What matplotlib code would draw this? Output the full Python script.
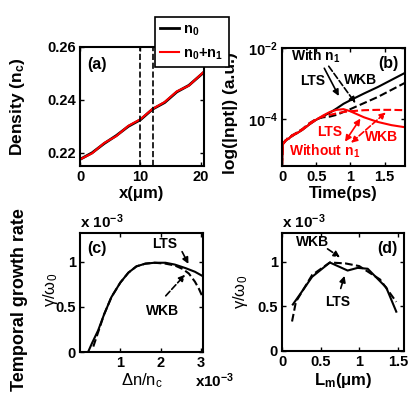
import numpy as np
import matplotlib
matplotlib.use("Agg")
import matplotlib.pyplot as plt

plt.rcParams['font.family'] = ['Liberation Sans', 'DejaVu Sans']
plt.rcParams['font.weight'] = 'bold'
plt.rcParams['axes.labelweight'] = 'bold'
plt.rcParams['font.size'] = 11
plt.rcParams['mathtext.default'] = 'regular'

# (a) density profile
x_a = [0, 2, 4, 6, 8, 10, 12, 14, 16, 18, 20.5]
n0 = [0.2175, 0.2200, 0.2235, 0.2265, 0.2300, 0.2325, 0.2365, 0.2390, 0.2430, 0.2455, 0.2505]
n0n1 = [0.2175, 0.2198, 0.2237, 0.2263, 0.2302, 0.2327, 0.2366, 0.2392, 0.2432, 0.2454, 0.2507]

# (b) log10(|npt|) vs time
t_b = [0, 0.01, 0.05, 0.1, 0.15, 0.2, 0.3, 0.4, 0.5, 0.6, 0.7, 0.8, 0.9, 1.0, 1.2, 1.4, 1.6, 1.8]
with_lts = [-5.32, -4.70, -4.60, -4.55, -4.45, -4.42, -4.30, -4.15, -4.02, -3.92, -3.82, -3.70, -3.57, -3.47, -3.28, -3.10, -2.90, -2.70]
with_wkb = [-5.32, -4.70, -4.62, -4.50, -4.48, -4.40, -4.28, -4.12, -4.00, -3.95, -3.93, -3.88, -3.80, -3.72, -3.55, -3.38, -3.18, -2.98]
wo_lts = [-5.32, -4.70, -4.60, -4.55, -4.45, -4.42, -4.30, -4.15, -4.02, -3.90, -3.80, -3.74, -3.72, -3.78, -3.95, -4.08, -4.17, -4.23]
wo_wkb = [-5.32, -4.72, -4.62, -4.50, -4.48, -4.40, -4.28, -4.12, -4.00, -3.93, -3.88, -3.84, -3.80, -3.78, -3.75, -3.74, -3.74, -3.75]

# (c) growth rate vs dn/nc (both x1e-3)
dn_c = [0.2, 0.3, 0.45, 0.6, 0.78, 1.0, 1.2, 1.4, 1.62, 1.85, 2.12, 2.35, 2.62, 2.85, 3.05]
lts_c = [0.0, 0.10, 0.24, 0.42, 0.61, 0.77, 0.88, 0.95, 0.98, 0.99, 0.99, 0.97, 0.93, 0.89, 0.84]
dn_c2 = [0.33, 0.45, 0.6, 0.78, 1.0, 1.2, 1.4, 1.62, 1.85, 2.12, 2.35, 2.55, 2.7, 2.85, 2.95, 3.05]
wkb_c = [0.06, 0.22, 0.42, 0.61, 0.77, 0.88, 0.95, 0.98, 0.99, 0.98, 0.96, 0.92, 0.87, 0.78, 0.70, 0.60]

# (d) growth rate vs Lm (x1e-3)
lm_lts = [0.14, 0.23, 0.39, 0.62, 0.85, 0.98, 1.11, 1.35, 1.48]
lts_d = [0.52, 0.63, 0.83, 0.99, 0.90, 0.93, 0.92, 0.71, 0.44]
lm_wkb = [0.13, 0.18, 0.39, 0.62, 0.82, 1.00, 1.27, 1.48]
wkb_d = [0.33, 0.55, 0.85, 0.99, 0.98, 0.95, 0.80, 0.55]

W, H = 415, 396
fig = plt.figure(figsize=(W / 100, H / 100), dpi=100)

XL = 12   # x label size
YL = 12.5   # y label size


def box(l, t, r, b):
    return [l / W, 1 - b / H, (r - l) / W, (b - t) / H]


def style(ax):
    ax.tick_params(direction='in', top=True, right=True, length=3, width=1,
                   labelsize=10.5, pad=3)
    for s in ax.spines.values():
        s.set_linewidth(1.5)


axa = fig.add_axes(box(80, 47, 204, 166))
axb = fig.add_axes(box(282, 48, 405, 166))
axc = fig.add_axes(box(80, 233, 203, 352))
axd = fig.add_axes(box(282, 233, 404, 351))

# (a)
l1, = axa.plot(x_a, n0, color='black', lw=2)
l2, = axa.plot(x_a, n0n1, color='red', lw=1.5)
axa.axvline(10, color='black', ls='--', lw=1.2)
axa.axvline(12, color='black', ls='--', lw=1.2)
axa.set_xlim(0, 20.5)
axa.set_ylim(0.215, 0.26)
axa.set_xticks([0, 10, 20])
axa.set_yticks([0.22, 0.24, 0.26])
axa.set_ylabel('Density (n$_c$)', fontsize=YL)
axa.yaxis.set_label_coords(-0.43, 0.5)
axa.set_xlabel('x(μm)', fontsize=XL, labelpad=1)
axa.text(0.06, 0.92, '(a)', transform=axa.transAxes, va='top', fontsize=11.5)
style(axa)
leg = fig.legend([l1, l2], ['n$_0$', 'n$_0$+n$_1$'], loc='upper left',
                 bbox_to_anchor=(155 / W, 1 - 17 / H), borderaxespad=0,
                 frameon=True, fancybox=False, edgecolor='black',
                 handlelength=1.3, borderpad=0.35, handletextpad=0.3,
                 labelspacing=0.6, fontsize=10.5)
leg.get_frame().set_linewidth(1.2)
leg.get_frame().set_alpha(1)

# (b)
tb = np.array(t_b)
axb.semilogy(tb, 10 ** np.array(with_lts), color='black', lw=1.5)
axb.semilogy(tb, 10 ** np.array(with_wkb), color='black', lw=1.5, ls='--')
axb.semilogy(tb, 10 ** np.array(wo_lts), color='red', lw=1.5)
axb.semilogy(tb, 10 ** np.array(wo_wkb), color='red', lw=1.5, ls='--')
axb.set_xlim(0, 1.8)
axb.set_ylim(10 ** -5.32, 1e-2)
axb.set_xticks([0, 0.5, 1, 1.5])
axb.set_xticklabels(['0', '0.5', '1', '1.5'])
axb.set_yticks([1e-4, 1e-2])
axb.minorticks_off()
axb.set_ylabel('log(|npt|) (a.u.)', fontsize=YL)
axb.yaxis.set_label_coords(-0.36, 0.45)
axb.set_xlabel('Time(ps)', fontsize=XL, labelpad=1)
axb.text(0.95, 0.93, '(b)', transform=axb.transAxes, ha='right', va='top', fontsize=11.5)
axb.text(0.5, 10 ** -2.23, 'With n$_1$', ha='center', va='center', fontsize=10)
axb.text(0.45, 10 ** -2.93, 'LTS', ha='center', va='center', fontsize=10)
axb.text(1.15, 10 ** -2.9, 'WKB', ha='center', va='center', fontsize=10)
axb.annotate('', xy=(0.85, 10 ** -3.42), xytext=(0.6, 10 ** -2.5),
             arrowprops=dict(arrowstyle='-|>', color='black', lw=1.2, mutation_scale=9))
axb.annotate('', xy=(1.1, 10 ** -3.62), xytext=(0.66, 10 ** -2.45),
             arrowprops=dict(arrowstyle='-|>', color='black', lw=1.2, ls='--', mutation_scale=9))
axb.text(0.7, 10 ** -4.35, 'LTS', color='red', ha='center', va='center', fontsize=10)
axb.text(1.45, 10 ** -4.5, 'WKB', color='red', ha='center', va='center', fontsize=10)
axb.text(0.62, 10 ** -4.92, 'Without n$_1$', color='red', ha='center', va='center', fontsize=10)
axb.annotate('', xy=(1.17, 10 ** -3.92), xytext=(0.9, 10 ** -4.7),
             arrowprops=dict(arrowstyle='<|-|>', color='red', lw=1.2, mutation_scale=9))
axb.annotate('', xy=(1.55, 10 ** -3.76), xytext=(0.98, 10 ** -4.72),
             arrowprops=dict(arrowstyle='<|-|>', color='red', lw=1.2, ls='--', mutation_scale=9))
style(axb)

# (c)
axc.plot(dn_c, lts_c, color='black', lw=1.5)
axc.plot(dn_c2, wkb_c, color='black', lw=1.5, ls='--')
axc.set_xlim(0, 3.05)
axc.set_ylim(0, 1.32)
axc.set_xticks([1, 2, 3])
axc.set_yticks([0, 0.5, 1])
axc.set_yticklabels(['0', '0.5', '1'])
axc.set_xlabel('Δn/n$_c$', fontweight='normal', fontsize=XL, labelpad=1)
axc.text(0.06, 0.93, '(c)', transform=axc.transAxes, va='top', fontsize=11.5)
axc.text(2.1, 1.2, 'LTS', ha='center', va='center', fontsize=10)
axc.annotate('', xy=(2.72, 0.95), xytext=(2.5, 1.14),
             arrowprops=dict(arrowstyle='-|>', color='black', lw=1.2, mutation_scale=9))
axc.text(2.05, 0.46, 'WKB', ha='center', va='center', fontsize=10)
axc.annotate('', xy=(2.65, 0.88), xytext=(2.08, 0.6),
             arrowprops=dict(arrowstyle='-|>', color='black', lw=1.2, ls='--', mutation_scale=9))
style(axc)
fig.text(80 / W, 1 - 222 / H, 'x 10$^{-3}$', ha='left', va='center', fontsize=11)
fig.text(195 / W, 1 - 381 / H, 'x10$^{-3}$', ha='left', va='center', fontsize=11)
fig.text(20 / W, 1 - 300 / H, 'Temporal growth rate', rotation=90, ha='center', va='center',
         fontsize=13)
fig.text(50 / W, 1 - 290 / H, r'$\gamma/\omega_0$', rotation=90, ha='center', va='center',
         fontweight='normal', fontsize=12)

# (d)
axd.plot(lm_lts, lts_d, color='black', lw=1.5)
axd.plot(lm_wkb, wkb_d, color='black', lw=1.5, ls='--')
axd.set_xlim(0, 1.58)
axd.set_ylim(0, 1.32)
axd.set_xticks([0, 0.5, 1, 1.5])
axd.set_xticklabels(['0', '0.5', '1', '1.5'])
axd.set_yticks([0, 0.5, 1])
axd.set_yticklabels(['0', '0.5', '1'])
axd.set_xlabel('L$_m$(μm)', fontsize=XL, labelpad=1)
axd.set_ylabel(r'$\gamma/\omega_0$', fontweight='normal', fontsize=12)
axd.yaxis.set_label_coords(-0.26, 0.5)
axd.text(0.95, 0.93, '(d)', transform=axd.transAxes, ha='right', va='top', fontsize=11.5)
axd.text(0.39, 1.22, 'WKB', ha='center', va='center', fontsize=10)
axd.annotate('', xy=(0.78, 1.03), xytext=(0.56, 1.16),
             arrowprops=dict(arrowstyle='-|>', color='black', lw=1.2, ls='--', mutation_scale=9))
axd.text(0.72, 0.55, 'LTS', ha='center', va='center', fontsize=10)
axd.annotate('', xy=(0.82, 0.87), xytext=(0.75, 0.67),
             arrowprops=dict(arrowstyle='-|>', color='black', lw=1.2, mutation_scale=9))
style(axd)
fig.text(282 / W, 1 - 222 / H, 'x 10$^{-3}$', ha='left', va='center', fontsize=11)

fig.savefig('out.png', dpi=100)
